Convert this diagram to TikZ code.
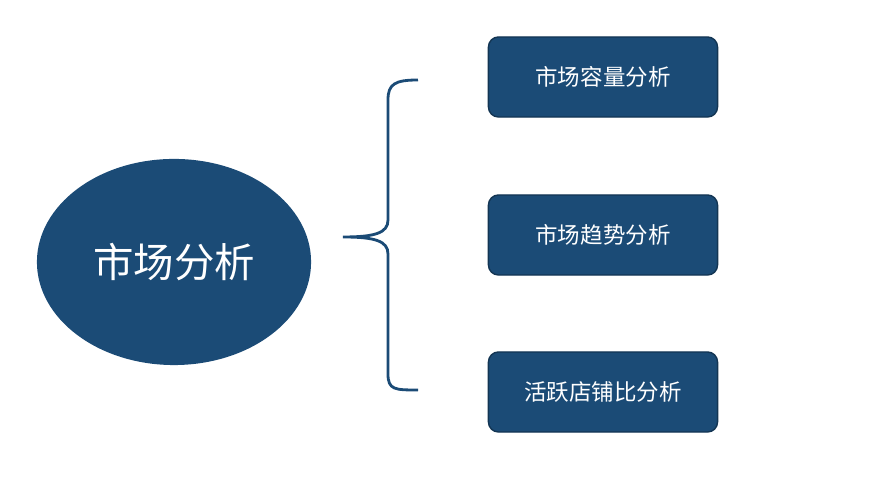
\documentclass[tikz,border=0pt]{standalone}
\usepackage{fontspec}
\setmainfont{Noto Sans CJK SC}
\usetikzlibrary{shapes.geometric}
\definecolor{deepblue}{HTML}{1B4B76}
\begin{document}
\begin{tikzpicture}[
  x=0.01cm, y=-0.01cm,
  item/.style={draw=deepblue!70!black, fill=deepblue, rounded corners=1mm,
    minimum width=2.29cm, minimum height=0.8cm, text=white, font=\fontsize{6.4pt}{7pt}\selectfont},
  topic/.style={ellipse, fill=deepblue, minimum width=2.74cm, minimum height=2.06cm,
    inner sep=0pt, text=white, font=\fontsize{11.5pt}{13pt}\selectfont},
  brace/.style={draw=deepblue, line width=0.8pt}
]
\useasboundingbox (0,0) rectangle (887,489);
% main topic
\node[topic] (main) at (174,262) {市场分析};

% sub items
\node[item] (cap)   at (603,77)  {市场容量分析};
\node[item] (trend) at (603,235) {市场趋势分析};
\node[item] (shop)  at (603,392) {活跃店铺比分析};

% brace
\coordinate (tip) at (343,237);
\path[brace] (418,80) .. controls (395,80) and (388,84) .. (388,100)
  -- (388,220) .. controls (388,233) and (375,237) .. (tip)
  .. controls (375,237) and (388,241) .. (388,254)
  -- (388,374) .. controls (388,390) and (395,390) .. (418,390);
\end{tikzpicture}
\end{document}
